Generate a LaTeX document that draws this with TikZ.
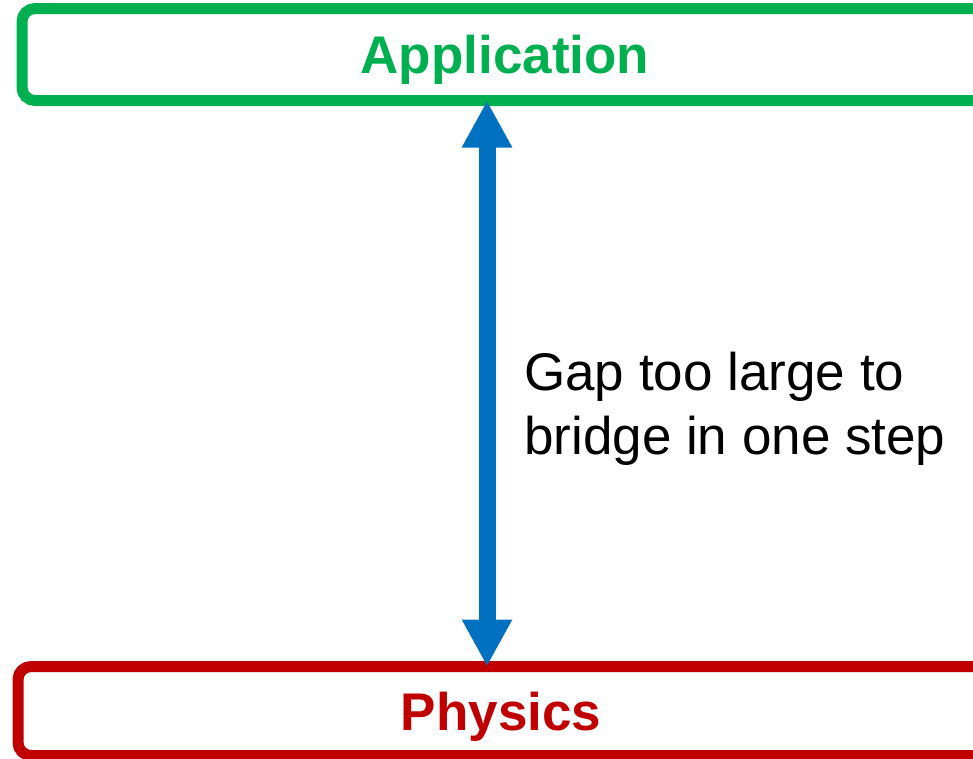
\documentclass[tikz,border=0pt]{standalone}
\usepackage{fontspec}
\setmainfont{Liberation Sans}
\usetikzlibrary{arrows.meta}
\definecolor{appgreen}{HTML}{00B050}
\definecolor{physred}{HTML}{C00000}
\definecolor{gapblue}{HTML}{0070C0}
\tikzset{
  layerbox/.style={draw, line width=11pt, rounded corners=13pt, outer sep=0pt, inner sep=0pt},
  layertext/.style={font=\fontsize{53}{64}\selectfont\bfseries, inner sep=0pt, anchor=base},
  gaparrow/.style={draw=gapblue, line width=17pt, {Triangle[width=47pt,length=47pt]}-{Triangle[width=47pt,length=47pt]}},
  gaptext/.style={font=\fontsize{53}{64}\selectfont, align=left, inner sep=0pt, anchor=west}
}
\begin{document}
\begin{tikzpicture}[x=1pt,y=-1pt]
\clip (0,0) rectangle (973,758);
\fill[white] (0,0) rectangle (973,758);
\node[layerbox, draw=appgreen, minimum width=1008pt, minimum height=92pt] (app) at (526,54.5) {};
\node[layerbox, draw=physred, minimum width=1012pt, minimum height=89pt] (phys) at (524,711) {};
\node[layertext, text=appgreen] (apptext) at (505,73) {Application};
\node[layertext, text=physred] (phystext) at (501,730) {Physics};
\coordinate (ax) at (487,400);
\draw[gaparrow] (ax |- app.south) -- (ax |- phys.north);
\node[gaptext] (gap) at (524,409) {Gap too large to\\bridge in one step};
\end{tikzpicture}
\end{document}
